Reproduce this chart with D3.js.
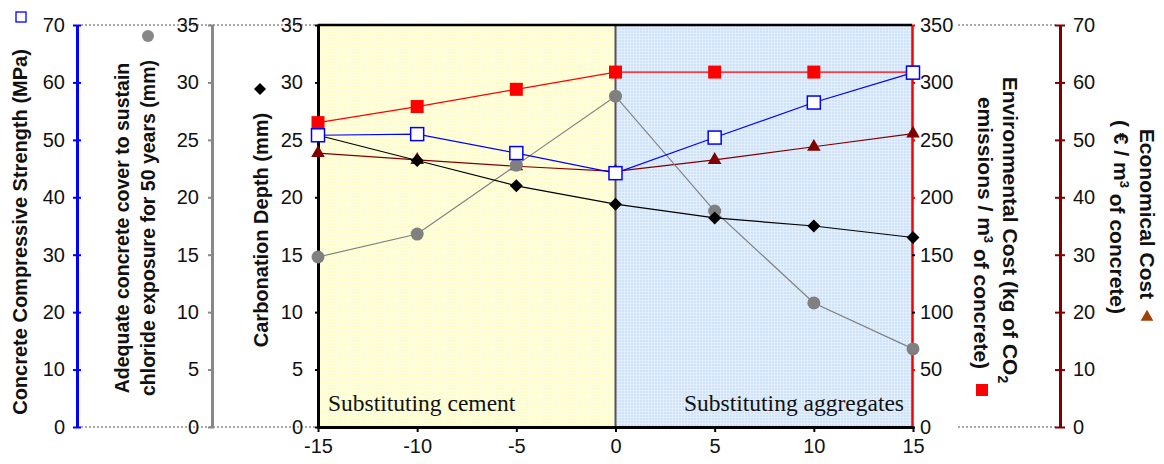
<!DOCTYPE html>
<html><head><meta charset="utf-8">
<script src="https://cdn.jsdelivr.net/npm/d3@7"></script>
<style>
body{margin:0;background:#fff;}
svg{display:block;font-family:"Liberation Sans",Arial,sans-serif;}
</style></head>
<body><svg id="c" width="1164" height="464"></svg>
<script>
const xs = [-15, -10, -5, 0, 5, 10, 15];
const strength = [50.8, 51.0, 47.7, 44.2, 50.4, 56.5, 61.7];
const cover = [14.8, 16.8, 22.8, 28.8, 18.8, 10.8, 6.8];
const carbonation = [25.4, 23.2, 21.0, 19.4, 18.2, 17.5, 16.5];
const envCost = [265, 279, 294, 309, 309, 309, 309];
const econCost = [47.7, 46.5, 45.4, 44.5, 46.5, 48.8, 51.1];
const xTicks = [-15, -10, -5, 0, 5, 10, 15];
const strengthTicks = [0, 10, 20, 30, 40, 50, 60, 70];
const coverTicks = [0, 5, 10, 15, 20, 25, 30, 35];
const carbTicks = [0, 5, 10, 15, 20, 25, 30, 35];
const envTicks = [0, 50, 100, 150, 200, 250, 300, 350];
const econTicks = [0, 10, 20, 30, 40, 50, 60, 70];
const regionLabels = ["Substituting cement", "Substituting aggregates"];

const svg = d3.select("#c");
const L = 318, R = 912, T = 25, B = 427;
const x = d3.scaleLinear().domain([-15, 15]).range([L, R + 1]);
const yStr = d3.scaleLinear().domain([0, 70]).range([B, T]);
const yCov = d3.scaleLinear().domain([0, 35]).range([B, T]);
const yCarb = d3.scaleLinear().domain([0, 35]).range([B, T]);
const yEnv = d3.scaleLinear().domain([0, 350]).range([B, T]);
const yEco = d3.scaleLinear().domain([0, 70]).range([B, T]);

const defs = svg.append("defs");
function pat(id, base, line) {
  const p = defs.append("pattern").attr("id", id).attr("width", 3).attr("height", 3)
    .attr("patternUnits", "userSpaceOnUse");
  p.append("rect").attr("width", 3).attr("height", 3).attr("fill", base);
  p.append("path").attr("d", "M0,0.5H3M0.5,0V3").attr("stroke", line).attr("stroke-width", 1);
}
pat("py", "#ffffc4", "#fdfde6");
pat("pb", "#cfe3f8", "#e2eefb");

[T, B].forEach(yy => {
  svg.append("line").attr("x1", 81).attr("x2", L).attr("y1", yy).attr("y2", yy)
    .attr("stroke", "#555").attr("stroke-width", 1).attr("stroke-dasharray", "2,2");
  svg.append("line").attr("x1", 958).attr("x2", 1058).attr("y1", yy).attr("y2", yy)
    .attr("stroke", "#555").attr("stroke-width", 1).attr("stroke-dasharray", "2,2");
});

svg.append("rect").attr("x", x(-15)).attr("y", T).attr("width", x(0) - x(-15)).attr("height", B - T).attr("fill", "url(#py)");
svg.append("rect").attr("x", x(0)).attr("y", T).attr("width", x(15) - x(0)).attr("height", B - T).attr("fill", "url(#pb)");
svg.append("line").attr("x1", x(0)).attr("x2", x(0)).attr("y1", T).attr("y2", B)
  .attr("stroke", "#555").attr("stroke-width", 2);

const serif = "'Liberation Serif','Times New Roman',serif";
svg.append("text").attr("x", 328).attr("y", 411).attr("font-family", serif)
  .attr("font-size", 23.5).attr("fill", "#111").text(regionLabels[0]);
svg.append("text").attr("x", 904).attr("y", 411).attr("text-anchor", "end").attr("font-family", serif)
  .attr("font-size", 23.5).attr("fill", "#111").text(regionLabels[1]);

const FS = 20;
function styleAxis(g, color, w) {
  g.select(".domain").attr("stroke", color).attr("stroke-width", w);
  g.selectAll(".tick line").attr("stroke", color).attr("stroke-width", 2);
  g.selectAll(".tick text").attr("fill", "#111").attr("font-size", FS).attr("font-family", "'Liberation Sans',Arial,sans-serif");
}
const plain = d => String(d);

const gBlue = svg.append("g").attr("transform", "translate(77,0)")
  .call(d3.axisLeft(yStr).tickValues(strengthTicks).tickFormat(plain).tickSize(4).tickSizeOuter(0).tickPadding(8));
styleAxis(gBlue, "#0000ff", 3);
gBlue.selectAll(".tick line").attr("x2", 4).attr("x1", -4);

const gGray = svg.append("g").attr("transform", "translate(212,0)")
  .call(d3.axisLeft(yCov).tickValues(coverTicks).tickFormat(plain).tickSize(4).tickSizeOuter(0).tickPadding(9));
styleAxis(gGray, "#888", 3);
gGray.selectAll(".tick line").attr("x1", -4).attr("x2", 2);

const gCarb = svg.append("g").attr("transform", `translate(${L},0)`)
  .call(d3.axisLeft(yCarb).tickValues(carbTicks).tickFormat(plain).tickSize(3).tickSizeOuter(0).tickPadding(12));
styleAxis(gCarb, "#000", 3);

const gRed = svg.append("g").attr("transform", `translate(${R},0)`)
  .call(d3.axisRight(yEnv).tickValues(envTicks).tickFormat(plain).tickSize(3).tickSizeOuter(0).tickPadding(5));
styleAxis(gRed, "#ff0000", 2.5);
gRed.selectAll(".tick line").filter(d => d === 0 || d === 100 || d === 150).attr("stroke", "#000");

const gEco = svg.append("g").attr("transform", "translate(1060,0)")
  .call(d3.axisRight(yEco).tickValues(econTicks).tickFormat(plain).tickSize(4).tickSizeOuter(0).tickPadding(9));
styleAxis(gEco, "#800000", 3);
gEco.selectAll(".tick line").attr("x1", -5).attr("x2", 5);

svg.append("line").attr("x1", L).attr("x2", R).attr("y1", T).attr("y2", T).attr("stroke", "#000").attr("stroke-width", 2.5);

const gX = svg.append("g").attr("transform", `translate(0,${B})`)
  .call(d3.axisBottom(x).tickValues(xTicks).tickFormat(plain).tickSize(5).tickSizeOuter(0).tickPadding(7));
styleAxis(gX, "#000", 3);

function vtitle(xc, yc, rot, fs) {
  return svg.append("text").attr("transform", `translate(${xc},${yc}) rotate(${rot})`)
    .attr("text-anchor", "middle").attr("font-weight", "bold").attr("font-size", fs).attr("fill", "#111")
    .attr("dy", "0.35em");
}
vtitle(20, 232, -90, 20).text("Concrete Compressive Strength (MPa)");
vtitle(122, 228, -90, 19.5).text("Adequate concrete cover to sustain");
vtitle(148, 228, -90, 19.5).text("chloride exposure for 50 years (mm)");
vtitle(261, 230, -90, 20).text("Carbonation Depth (mm)");

const t1 = vtitle(1010, 230, 90, 21);
t1.append("tspan").text("Environmental Cost  (kg of CO");
t1.append("tspan").attr("font-size", 14).attr("dy", "0.3em").text("2");
const t2 = vtitle(985, 233, 90, 21);
t2.append("tspan").text("emissions / m");
t2.append("tspan").attr("font-size", 13).attr("dy", "-0.5em").text("3");
t2.append("tspan").attr("dy", "0.5em").text(" of concrete)");
vtitle(1147, 214, 90, 21).text("Economical Cost");
const t4 = vtitle(1121, 217, 90, 21);
t4.append("tspan").text("( € / m");
t4.append("tspan").attr("font-size", 13).attr("dy", "-0.5em").text("3");
t4.append("tspan").attr("dy", "0.5em").text(" of concrete)");

const diamond = s => `M0,${-s}L${s},0L0,${s}L${-s},0Z`;
svg.append("rect").attr("x", 16).attr("y", 12).attr("width", 10).attr("height", 10).attr("fill", "#fff").attr("stroke", "#0000ff").attr("stroke-width", 1.3);
svg.append("circle").attr("cx", 148).attr("cy", 36).attr("r", 6).attr("fill", "#888");
svg.append("path").attr("transform", "translate(260,89)").attr("d", diamond(6)).attr("fill", "#000");
svg.append("rect").attr("x", 976).attr("y", 384).attr("width", 12).attr("height", 12).attr("fill", "#ff0000");
svg.append("path").attr("transform", "translate(1147,317)").attr("d", d3.symbol(d3.symbolTriangle, 70)()).attr("fill", "#a0400a");

const pts = (vals, ys) => xs.map((xv, i) => [x(xv), ys(vals[i])]);
const line = d3.line();
function series(vals, ys, color, marker) {
  const p = pts(vals, ys);
  svg.append("path").attr("d", line(p)).attr("fill", "none").attr("stroke", color).attr("stroke-width", 1.2);
  const g = svg.append("g");
  p.forEach(q => marker(g, q));
}
series(envCost, yEnv, "#ff0000", (g, q) => g.append("rect").attr("x", q[0] - 6.5).attr("y", q[1] - 6.5).attr("width", 13).attr("height", 13).attr("fill", "#ff0000"));
series(econCost, yEco, "#800000", (g, q) => g.append("path").attr("transform", `translate(${q[0]},${q[1]})`).attr("d", d3.symbol(d3.symbolTriangle, 80)()).attr("fill", "#800000"));
series(cover, yCov, "#808080", (g, q) => g.append("circle").attr("cx", q[0]).attr("cy", q[1]).attr("r", 6.5).attr("fill", "#808080"));
series(carbonation, yCarb, "#000", (g, q) => g.append("path").attr("transform", `translate(${q[0]},${q[1]})`).attr("d", diamond(6.5)).attr("fill", "#000"));
series(strength, yStr, "#0000ff", (g, q) => g.append("rect").attr("x", q[0] - 6.5).attr("y", q[1] - 6.5).attr("width", 13).attr("height", 13).attr("fill", "#fff").attr("stroke", "#0000ff").attr("stroke-width", 1.5));
</script></body></html>
